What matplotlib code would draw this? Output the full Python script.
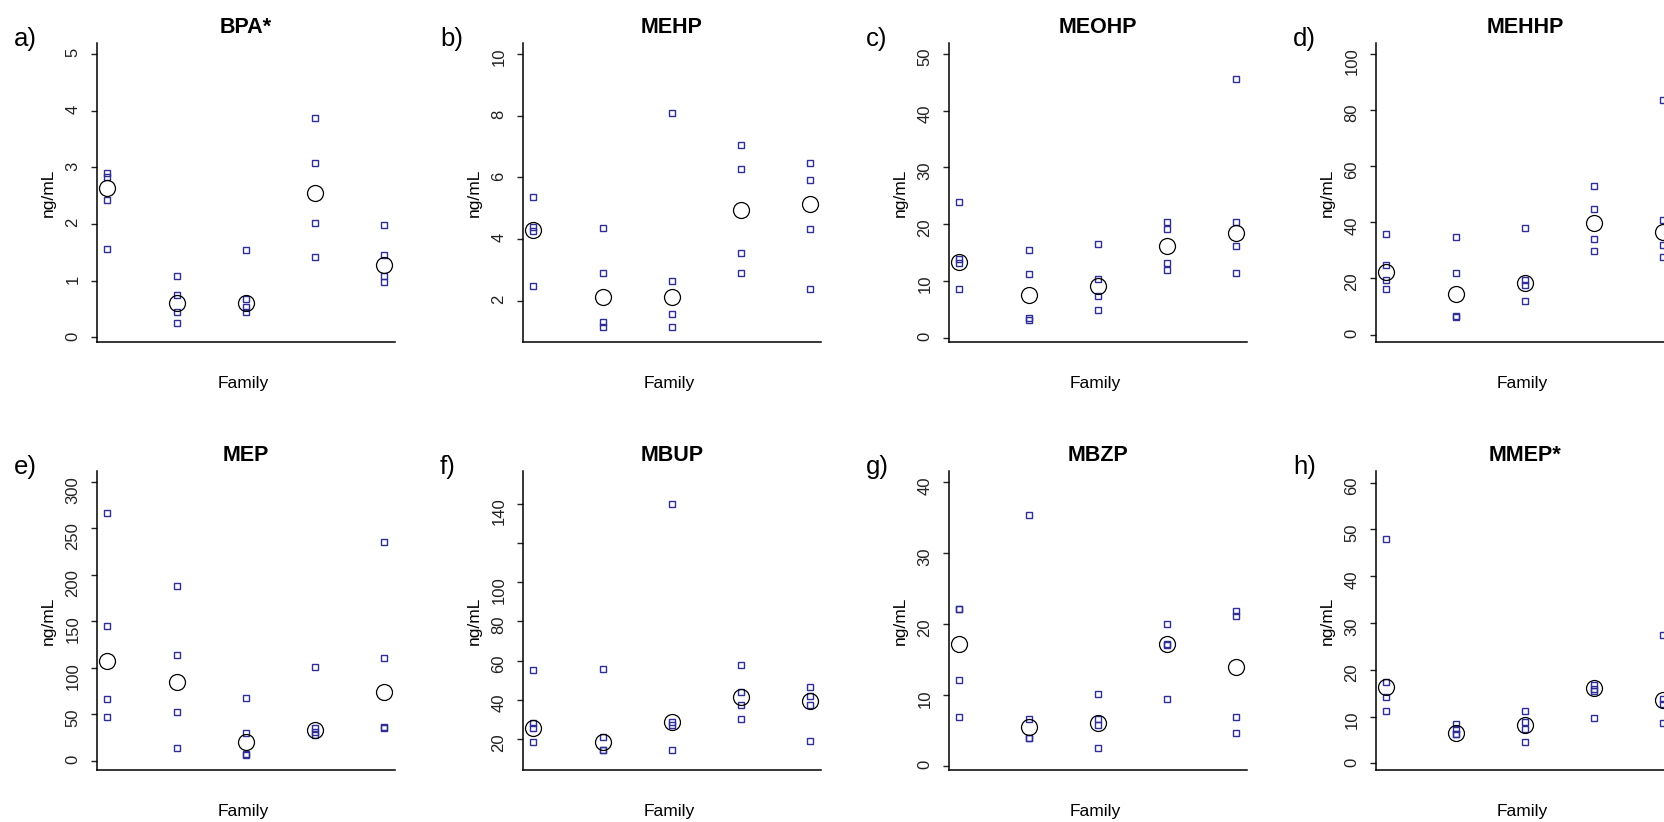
import matplotlib
matplotlib.use("Agg")
import matplotlib.pyplot as plt

plt.rcParams["font.family"] = ["Liberation Sans", "DejaVu Sans"]

families = [1, 2, 3, 4, 5]

# individual values (squares) and family means (circles), ng/mL
bpa_values = [[2.89, 2.82, 2.42, 1.56], [1.08, 0.75, 0.45, 0.26], [1.54, 0.68, 0.54, 0.45],
              [3.86, 3.07, 2.01, 1.41], [1.99, 1.45, 1.08, 0.98]]
bpa_means = [2.63, 0.61, 0.61, 2.55, 1.28]

mehp_values = [[5.37, 4.40, 4.25, 2.49], [4.37, 2.91, 1.32, 1.14], [8.08, 2.66, 1.57, 1.17],
               [7.05, 6.26, 3.54, 2.89], [6.48, 5.90, 4.32, 2.40]]
mehp_means = [4.31, 2.13, 2.13, 4.94, 5.14]

meohp_values = [[23.9, 13.9, 13.1, 8.5], [15.4, 11.2, 3.5, 3.2], [16.5, 10.4, 7.4, 4.8],
                [20.4, 19.2, 13.2, 12.0], [45.6, 20.4, 16.1, 11.4]]
meohp_means = [13.4, 7.6, 9.1, 16.1, 18.5]

mehhp_values = [[35.7, 24.7, 19.6, 16.4], [34.7, 22.1, 6.8, 6.3], [38.0, 19.4, 17.8, 12.0],
                [53.0, 44.8, 34.2, 29.8], [83.5, 40.8, 31.9, 27.6]]
mehhp_means = [22.4, 14.6, 18.4, 39.6, 36.4]

mep_values = [[266.3, 145.5, 66.3, 46.6], [187.8, 113.6, 52.3, 13.3], [67.0, 30.1, 6.8, 5.7],
              [100.4, 34.8, 30.5, 27.6], [235.5, 110.8, 36.2, 35.5]]
mep_means = [107.2, 84.2, 20.4, 33.0, 73.5]

mbup_values = [[55.1, 28.0, 25.4, 18.6], [55.8, 21.2, 14.4, 14.4], [140.0, 28.8, 27.1, 14.4],
               [57.9, 44.1, 37.3, 30.4], [46.3, 41.9, 37.3, 19.2]]
mbup_means = [25.8, 18.6, 28.5, 41.2, 39.4]

mbzp_values = [[22.2, 22.1, 12.2, 6.9], [35.4, 6.7, 4.0, 3.9], [10.1, 6.6, 5.8, 2.6],
               [20.0, 17.2, 17.1, 9.4], [21.9, 21.2, 6.9, 4.6]]
mbzp_means = [17.2, 5.5, 6.1, 17.2, 14.0]

mmep_values = [[48.0, 17.3, 14.1, 11.2], [8.4, 7.3, 6.4, 6.4], [11.2, 8.9, 7.3, 4.6],
               [16.7, 15.5, 16.0, 9.7], [27.4, 13.7, 12.8, 8.7]]
mmep_means = [16.4, 6.5, 8.3, 16.2, 13.5]

letters = ["a)", "b)", "c)", "d)", "e)", "f)", "g)", "h)"]
titles = ["BPA*", "MEHP", "MEOHP", "MEHHP", "MEP", "MBUP", "MBZP", "MMEP*"]
all_values = [bpa_values, mehp_values, meohp_values, mehhp_values,
              mep_values, mbup_values, mbzp_values, mmep_values]
all_means = [bpa_means, mehp_means, meohp_means, mehhp_means,
             mep_means, mbup_means, mbzp_means, mmep_means]
yticks = [[0, 1, 2, 3, 4, 5], [2, 4, 6, 8, 10], [0, 10, 20, 30, 40, 50],
          [0, 20, 40, 60, 80, 100], [0, 50, 100, 150, 200, 250, 300],
          [20, 40, 60, 80, 100, 120, 140], [0, 10, 20, 30, 40], [0, 10, 20, 30, 40, 50, 60]]
ylims = [(-0.08, 5.19), (0.67, 10.35), (-0.76, 51.9), (-2.6, 103.8),
         (-10, 311.8), (4.2, 156.7), (-0.56, 41.6), (-1.4, 62.5)]

W, H = 1664, 822
fig = plt.figure(figsize=(W / 100, H / 100), dpi=100)

col_left = [97, 523, 949, 1376]
row_bottom = [342, 770]
ax_w, ax_h = 298, 299

for i in range(8):
    r, c = divmod(i, 4)
    left = col_left[c] / W
    bottom = (H - row_bottom[r]) / H
    ax = fig.add_axes([left, bottom, ax_w / W, ax_h / H])

    for fam, vals in zip(families, all_values[i]):
        ax.plot([fam] * len(vals), vals, ls="none", marker="s", ms=4.4, mew=1.0,
                mfc="none", mec="#2e2e96")
    ax.plot(families, all_means[i], ls="none", marker="o", ms=11.5, mew=0.9,
            mfc="none", mec="black")

    ax.set_xlim(0.85, 5.16)
    ax.set_ylim(*ylims[i])
    ax.set_xticks([])
    ax.set_yticks(yticks[i])
    labels = [str(t) for t in yticks[i]]
    if titles[i] == "MBUP":
        labels[labels.index("120")] = ""
    ax.set_yticklabels(labels)
    ax.tick_params(axis="y", labelrotation=90, length=4, width=1.0, pad=8,
                   labelsize=12, colors="#222222")

    for side in ["top", "right"]:
        ax.spines[side].set_visible(False)
    for side in ["left", "bottom"]:
        ax.spines[side].set_linewidth(1.1)

    ax.set_title(titles[i], fontsize=15.5, fontweight="bold", pad=7)
    ax.set_ylabel("ng/mL", fontsize=12.5, va="center")
    ax.yaxis.set_label_coords(-0.164, 0.5)
    ax.set_xlabel("Family", fontsize=12.5, va="center")
    ax.xaxis.set_label_coords(0.49, -0.14)
    ax.text(-0.279, 1.013, letters[i], transform=ax.transAxes, fontsize=18.5,
            ha="left", va="center")

fig.savefig("out.png", dpi=100, facecolor="white")
